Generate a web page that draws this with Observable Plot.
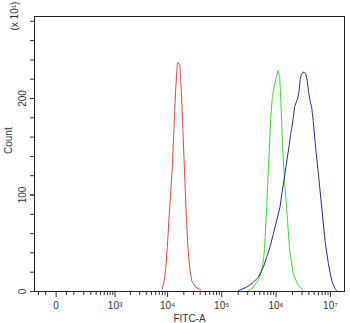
<!DOCTYPE html>
<html>
<head>
<meta charset="utf-8">
<script src="https://cdn.jsdelivr.net/npm/d3@7"></script>
<script src="https://cdn.jsdelivr.net/npm/@observablehq/plot@0.6"></script>
<style>
  html, body { margin: 0; padding: 0; background: #fff; }
  #chart svg { display: block; }
</style>
</head>
<body>
<div id="chart"></div>
<script>
// FITC-A values (biexponential-like axis) and counts (x10) for each histogram
const redX = [7970, 8550, 9190, 9880, 10580, 11380, 12230, 13090, 14090, 15140, 15800, 16920, 17960, 19230, 20670, 22220, 23790, 25570, 27830, 33000, 40800];
const redCount = [2.8, 9.6, 21.8, 45.9, 73.6, 101.6, 128.8, 166.8, 208.3, 236, 237.6, 234.2, 208.3, 166.8, 122.3, 77, 45.9, 25.2, 11.4, 4.5, 1.8];

const greenX = [312800, 370200, 438800, 498200, 542100, 590100, 610500, 656200, 699500, 745100, 794400, 850100, 913900, 1006600, 1081600, 1162400, 1212400, 1265500, 1337000, 1436800, 1597700, 1776000, 2060400, 2492000, 3081000];
const greenCount = [1.0, 3.6, 9.3, 14.5, 21.8, 34.2, 44.6, 75.6, 110.9, 144, 179.3, 201, 211.4, 221.8, 229, 222.8, 201, 175.1, 142.5, 111.9, 78.8, 42.5, 18.7, 7.3, 1.6];

const blueX = [202000, 287300, 381600, 471600, 582600, 670100, 770900, 890200, 1024000, 1177800, 1304000, 1456000, 1610600, 1739500, 1853000, 1934600, 2060400, 2196000, 2339000, 2492000, 2655000, 2771000, 2916000, 3081000, 3281000, 3498000, 3726000, 3972000, 4230000, 4510000, 4806000, 5187000, 5458000, 5990000, 6890000, 7925000, 9153000, 10521000, 12105000, 13005000];
const blueCount = [1.0, 4.5, 9.6, 14.8, 25.2, 35.5, 45.9, 59.8, 73.6, 87.4, 104.7, 122, 139.2, 151.3, 163.7, 168.9, 179.3, 191.7, 195.9, 200, 208.3, 219.7, 224.9, 227, 227.5, 225.9, 218.7, 206.2, 196.9, 190.7, 177.2, 156, 143.2, 122, 87.4, 52.8, 28.7, 11.4, 2.8, 1.0];

// Tick labels
const xMajorTicks = [0, 1e3, 1e4, 1e5, 1e6, 1e7];
const xMinorTicks = [-100, -50, 50, 100, 200, 300, 400, 500, 600, 700, 800, 900]
  .concat(...[1e3, 1e4, 1e5, 1e6].map(p => [2, 3, 4, 5, 6, 7, 8, 9].map(k => k * p)));
const yTicks = d3.range(0, 281, 20);
const yLabelTicks = [0, 100, 200];
const xLabel = "FITC-A";
const yLabel = "Count";
const yMultiplier = "(x 10\u00B9)";

const sup = {3: "\u00B3", 4: "\u2074", 5: "\u2075", 6: "\u2076", 7: "\u2077"};
const fmtX = d => d === 0 ? "0" : "10" + sup[Math.round(Math.log10(d))];

const toRows = (xs, ys) => xs.map((x, i) => ({x, y: ys[i]}));
const red = toRows(redX, redCount);
const green = toRows(greenX, greenCount);
const blue = toRows(blueX, blueCount);

const chart = Plot.plot({
  width: 350,
  height: 323,
  marginLeft: 34,
  marginRight: 6,
  marginTop: 16,
  marginBottom: 32,
  style: {fontFamily: "'Liberation Sans', Arial, sans-serif", fontSize: "10px", color: "#333", background: "#fff"},
  x: {type: "symlog", constant: 90, domain: [-135, 1.81e7]},
  y: {domain: [0, 285]},
  marks: [
    Plot.line(red, {x: "x", y: "y", stroke: "#e04848", strokeWidth: 1}),
    Plot.line(green, {x: "x", y: "y", stroke: "#3ad83a", strokeWidth: 1}),
    Plot.line(blue, {x: "x", y: "y", stroke: "#2a2aa0", strokeWidth: 1}),
    Plot.axisX(xMinorTicks, {tickSize: 4, tickFormat: () => "", label: null, stroke: "#333"}),
    Plot.axisX(xMajorTicks, {tickSize: 6, tickPadding: 4, tickFormat: fmtX, label: xLabel, labelAnchor: "center", labelOffset: 30, labelArrow: "none", stroke: "#333", fill: "#333"}),
    Plot.axisY(yTicks, {tickSize: 4, tickFormat: () => "", label: null, stroke: "#333"}),
    Plot.axisY(yLabelTicks, {tickSize: 4, tickFormat: d => String(d), tickRotate: -90, label: null, stroke: "#333", fill: "#333"}),
    Plot.text([yLabel], {frameAnchor: "left", dx: -26, rotate: -90, text: d => d, fill: "#333"}),
    Plot.text([yMultiplier], {frameAnchor: "top-left", dx: -24, dy: 14, rotate: -90, text: d => d, fill: "#333"}),
    Plot.frame({stroke: "#222"})
  ]
});
document.getElementById("chart").appendChild(chart);
</script>
</body>
</html>
